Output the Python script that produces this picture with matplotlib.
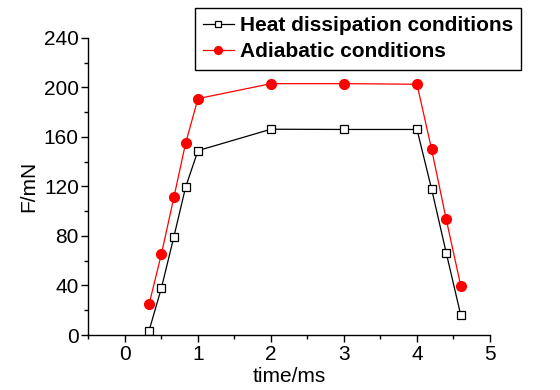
import matplotlib
matplotlib.use('Agg')
import matplotlib.pyplot as plt
from matplotlib.ticker import MultipleLocator

plt.rcParams['font.family'] = ['Liberation Sans', 'DejaVu Sans']

# time in ms
t = [0.33, 0.5, 0.67, 0.83, 1.0, 2.0, 3.0, 4.0, 4.2, 4.4, 4.6]
heat_diss = [3.5, 38.2, 79.4, 119.3, 148.9, 166.2, 166.0, 166.0, 117.9, 66.5, 15.9]
adiabatic = [24.8, 65.7, 111.2, 154.8, 190.9, 203.0, 203.0, 202.5, 150.0, 93.5, 39.6]

fig = plt.figure(figsize=(5.6, 3.9), dpi=100)
ax = fig.add_axes([0.158, 0.141, 0.717, 0.762])

ax.plot(t, heat_diss, color='black', lw=0.9, marker='s', ms=6,
        mfc='white', mec='black', mew=0.9, label='Heat dissipation conditions')
ax.plot(t, adiabatic, color='red', lw=0.9, marker='o', ms=7,
        mfc='red', mec='red', label='Adiabatic conditions')

ax.set_xlim(-0.5, 5)
ax.set_ylim(0, 240)
ax.xaxis.set_major_locator(MultipleLocator(1))
ax.xaxis.set_minor_locator(MultipleLocator(0.5))
ax.yaxis.set_major_locator(MultipleLocator(40))
ax.yaxis.set_minor_locator(MultipleLocator(20))

for s in ['top', 'right']:
    ax.spines[s].set_visible(False)
for s in ['left', 'bottom']:
    ax.spines[s].set_linewidth(1.0)

ax.tick_params(which='major', direction='out', length=5, width=1.0,
               labelsize=15, pad=2)
ax.tick_params(which='minor', direction='out', length=3, width=1.0)

ax.set_xlabel('time/ms', fontsize=15, labelpad=2)
ax.set_ylabel('F/mN', fontsize=15, labelpad=4)

leg = fig.legend(loc='upper right', bbox_to_anchor=(0.931, 0.98),
                 bbox_transform=fig.transFigure, borderaxespad=0,
                 prop={'weight': 'bold', 'size': 15}, handlelength=1.45,
                 handletextpad=0.3, labelspacing=0.34, borderpad=0.4,
                 markerscale=0.8, fancybox=False, framealpha=1)
leg.get_frame().set_edgecolor('black')
leg.get_frame().set_linewidth(1.0)

fig.savefig('out.png', dpi=100)
